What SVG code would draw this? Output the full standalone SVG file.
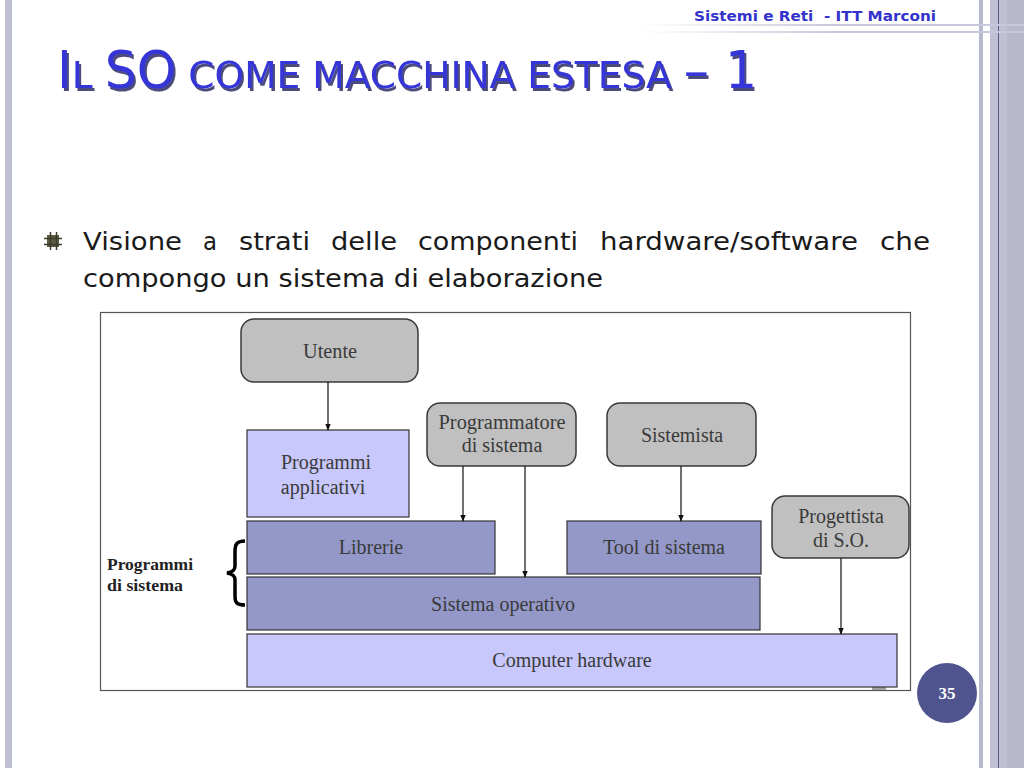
<svg xmlns="http://www.w3.org/2000/svg" width="1024" height="768" viewBox="0 0 1024 768">
<defs>
<style>
.actor{fill:#c0c0c0;stroke:#3a3a3a;stroke-width:1.5}
.light{fill:#c8c8fc;stroke:#333;stroke-width:1.2}
.mid{fill:#9398c8;stroke:#333;stroke-width:1.2}
.lbl{font-family:"Liberation Serif","Times New Roman",serif;font-size:20px;fill:#3a3a3a;text-anchor:middle}
.conn{stroke:#111;stroke-width:1.2;fill:none}
.bt{font-family:"DejaVu Sans",sans-serif;font-size:24px;fill:#1a1a1a}
</style>
<filter id="shadow" x="-5%" y="-20%" width="110%" height="150%">
<feDropShadow dx="2" dy="3" stdDeviation="0.6" flood-color="#0c0c50" flood-opacity="0.75"/>
</filter>
<marker id="ah" viewBox="0 0 10 10" refX="9" refY="5" markerWidth="7" markerHeight="9" orient="auto" markerUnits="userSpaceOnUse">
<path d="M0,1 L10,5 L0,9 z" fill="#111"/>
</marker>
<linearGradient id="hl" x1="0" x2="1" y1="0" y2="0">
<stop offset="0" stop-color="#d0d0e0" stop-opacity="0"/>
<stop offset="0.5" stop-color="#c8c8dc" stop-opacity="1"/>
<stop offset="1" stop-color="#c8c8dc"/>
</linearGradient>
</defs>
<rect width="1024" height="768" fill="#ffffff"/>
<!-- slide decorations -->
<rect x="5" y="0" width="7" height="768" fill="#c0c0d4"/>
<rect x="979" y="0" width="4" height="768" fill="#b8b8cc"/>
<rect x="990" y="0" width="34" height="768" fill="#c0c0d4"/>
<rect x="1007" y="0" width="17" height="768" fill="#b8b8cc"/>
<line x1="998.5" y1="0" x2="998.5" y2="768" stroke="#5a5a8a" stroke-width="1"/>
<rect x="640" y="24" width="384" height="2" fill="url(#hl)"/>
<rect x="640" y="31" width="384" height="2" fill="url(#hl)"/>
<text x="694" y="21" font-family="'DejaVu Sans',sans-serif" font-weight="bold" font-size="14" fill="#3333cc" textLength="242" lengthAdjust="spacingAndGlyphs" xml:space="preserve">Sistemi e Reti  - ITT Marconi</text>
<!-- title -->
<text x="57" y="88" font-family="'DejaVu Sans',sans-serif" fill="#3535d8" filter="url(#shadow)" textLength="700" lengthAdjust="spacingAndGlyphs"><tspan font-size="51">I</tspan><tspan font-size="38">L </tspan><tspan font-size="51">SO</tspan><tspan font-size="38"> COME MACCHINA ESTESA </tspan><tspan font-size="51">– 1</tspan></text>
<!-- bullet -->
<g id="bullet">
<rect x="47" y="235" width="12" height="12" fill="#5c5c44"/>
<path d="M44,238.5 H62 M44,244.5 H62 M50.5,232 V250 M56.5,232 V250" stroke="#3c3c2c" stroke-width="1.5"/>
</g>
<g class="bt">
<text class="bt" x="83" y="250" textLength="99" lengthAdjust="spacingAndGlyphs">Visione</text>
<text class="bt" x="203" y="250" textLength="14" lengthAdjust="spacingAndGlyphs">a</text>
<text class="bt" x="239" y="250" textLength="71" lengthAdjust="spacingAndGlyphs">strati</text>
<text class="bt" x="331" y="250" textLength="66" lengthAdjust="spacingAndGlyphs">delle</text>
<text class="bt" x="418" y="250" textLength="160" lengthAdjust="spacingAndGlyphs">componenti</text>
<text class="bt" x="600" y="250" textLength="258" lengthAdjust="spacingAndGlyphs">hardware/software</text>
<text class="bt" x="880" y="250" textLength="50" lengthAdjust="spacingAndGlyphs">che</text>
<text class="bt" x="83" y="287" textLength="520" lengthAdjust="spacingAndGlyphs">compongo un sistema di elaborazione</text>
</g>
<!-- diagram frame -->
<rect x="100.5" y="312.5" width="810" height="378" fill="#ffffff" stroke="#555" stroke-width="1.2"/>
<rect x="872" y="687" width="14" height="3" fill="#a0a0a0"/>
<!-- nodes -->
<g id="utente"><rect class="actor" x="241" y="319" width="177" height="63" rx="13"/><text class="lbl" x="330" y="358" textLength="54" lengthAdjust="spacingAndGlyphs">Utente</text></g>
<g id="programmatore"><rect class="actor" x="427" y="403" width="149" height="63" rx="13"/><text class="lbl" x="502" y="429" textLength="127" lengthAdjust="spacingAndGlyphs">Programmatore</text><text class="lbl" x="502" y="452">di sistema</text></g>
<g id="sistemista"><rect class="actor" x="607" y="403" width="149" height="63" rx="13"/><text class="lbl" x="682" y="442">Sistemista</text></g>
<g id="progettista"><rect class="actor" x="772" y="496" width="137" height="62" rx="13"/><text class="lbl" x="841" y="523">Progettista</text><text class="lbl" x="841" y="547">di S.O.</text></g>
<g id="applicativi"><rect class="light" x="247" y="430" width="162" height="87"/><text class="lbl" x="326" y="469">Programmi</text><text class="lbl" x="323" y="494">applicativi</text></g>
<g id="librerie"><rect class="mid" x="247" y="521" width="248" height="53"/><text class="lbl" x="371" y="554">Librerie</text></g>
<g id="tool"><rect class="mid" x="567" y="521" width="194" height="53"/><text class="lbl" x="664" y="554">Tool di sistema</text></g>
<g id="so"><rect class="mid" x="247" y="577" width="513" height="53"/><text class="lbl" x="503" y="611">Sistema operativo</text></g>
<g id="hardware"><rect class="light" x="247" y="634" width="650" height="53"/><text class="lbl" x="572" y="667">Computer hardware</text></g>
<g id="programmi-sistema">
<path d="M245,541 C236,541 235,545 235,552 L235,566 C235,570 233,572 227,573 C233,574 235,576 235,580 L235,596 C235,602 236,605 245,605" fill="none" stroke="#000" stroke-width="3.5"/>
<text x="107" y="570" font-family="'Liberation Serif','Times New Roman',serif" font-weight="bold" font-size="16" fill="#222" textLength="86" lengthAdjust="spacingAndGlyphs">Programmi</text>
<text x="107" y="591" font-family="'Liberation Serif','Times New Roman',serif" font-weight="bold" font-size="16" fill="#222" textLength="76" lengthAdjust="spacingAndGlyphs">di sistema</text>
</g>
<!-- connectors -->
<g id="connectors">
<line class="conn" x1="328" y1="382" x2="328" y2="430" marker-end="url(#ah)"/>
<line class="conn" x1="463" y1="466" x2="463" y2="521" marker-end="url(#ah)"/>
<line class="conn" x1="525" y1="466" x2="525" y2="577" marker-end="url(#ah)"/>
<line class="conn" x1="681" y1="466" x2="681" y2="521" marker-end="url(#ah)"/>
<line class="conn" x1="841" y1="558" x2="841" y2="634" marker-end="url(#ah)"/>
</g>
<!-- page number -->
<g id="pagenum"><circle cx="947" cy="693" r="30" fill="#50548e"/><text x="947" y="699" font-family="'Liberation Serif',serif" font-weight="bold" font-size="17" fill="#ffffff" text-anchor="middle">35</text></g>
</svg>
